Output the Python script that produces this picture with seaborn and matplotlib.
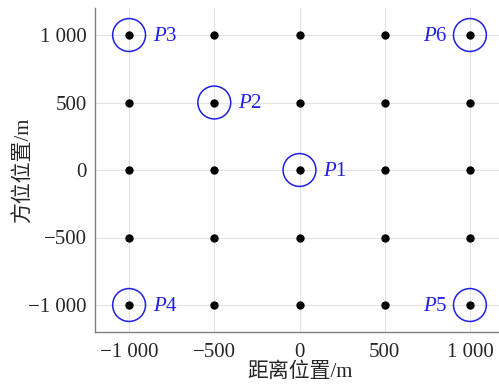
import matplotlib
matplotlib.use("Agg")
import matplotlib.pyplot as plt
import seaborn as sns
import pandas as pd
import numpy as np

# ---- data ----
grid_vals = [-1000, -500, 0, 500, 1000]
target_names = ["1", "2", "3", "4", "5", "6"]
target_x = [0, -500, -1000, -1000, 1000, 1000]
target_y = [0, 500, 1000, -1000, -1000, 1000]
label_side = ["right", "right", "right", "right", "left", "left"]
tick_vals = [-1000, -500, 0, 500, 1000]
tick_labels = ["\u22121 000", "\u2212500", "0", "500", "1 000"]
x_label = "距离位置/m"
y_label = "方位位置/m"

sns.set_style("white")
plt.rcParams["font.family"] = ["Liberation Serif", "Noto Sans CJK SC"]
plt.rcParams["mathtext.fontset"] = "custom"
plt.rcParams["mathtext.it"] = "Liberation Serif:italic"
plt.rcParams["mathtext.rm"] = "Liberation Serif"

gx, gy = np.meshgrid(grid_vals, grid_vals)
grid_df = pd.DataFrame({"x": gx.ravel(), "y": gy.ravel()})
tgt_df = pd.DataFrame({"x": target_x, "y": target_y, "name": target_names})

fig = plt.figure(figsize=(4.99, 3.89), dpi=100)
ax = fig.add_axes([95 / 499, 57 / 389, (504 - 95) / 499, (332 - 8) / 389])

blue = "#1f1fe6"
sns.scatterplot(data=tgt_df, x="x", y="y", ax=ax, s=560, marker="o",
                facecolor="none", edgecolor=blue, linewidth=1.1, zorder=3)
sns.scatterplot(data=grid_df, x="x", y="y", ax=ax, s=36, color="black",
                edgecolor="black", linewidth=0, zorder=4)

for name, x, y, side in zip(target_names, target_x, target_y, label_side):
    off = 17 if side == "right" else -16
    ax.annotate(r"$P$" + name, (x, y), xytext=(off, -1), textcoords="offset points",
                ha="left" if side == "right" else "right", va="center",
                color=blue, fontsize=15)

ax.set_xlim(-1200, 1200)
ax.set_ylim(-1200, 1200)
ax.set_xticks(tick_vals)
ax.set_xticklabels(tick_labels)
ax.set_yticks(tick_vals)
ax.set_yticklabels(tick_labels)
ax.grid(True, color="#e3e3e3", linewidth=0.8)
ax.set_axisbelow(True)
for s in ["top", "right"]:
    ax.spines[s].set_visible(False)
for s in ["left", "bottom"]:
    ax.spines[s].set_color("#808080")
    ax.spines[s].set_linewidth(1.0)
ax.tick_params(axis="x", direction="in", length=3, width=0.8, color="#808080",
               pad=8, labelsize=15)
ax.tick_params(axis="y", direction="in", length=3, width=0.8, color="#808080",
               pad=6, labelsize=15)
ax.set_xlabel(x_label, fontsize=15, labelpad=0)
ax.set_ylabel(y_label, fontsize=15)
ax.yaxis.set_label_coords(-0.152, 0.5)

fig.savefig("out.png", dpi=100)
